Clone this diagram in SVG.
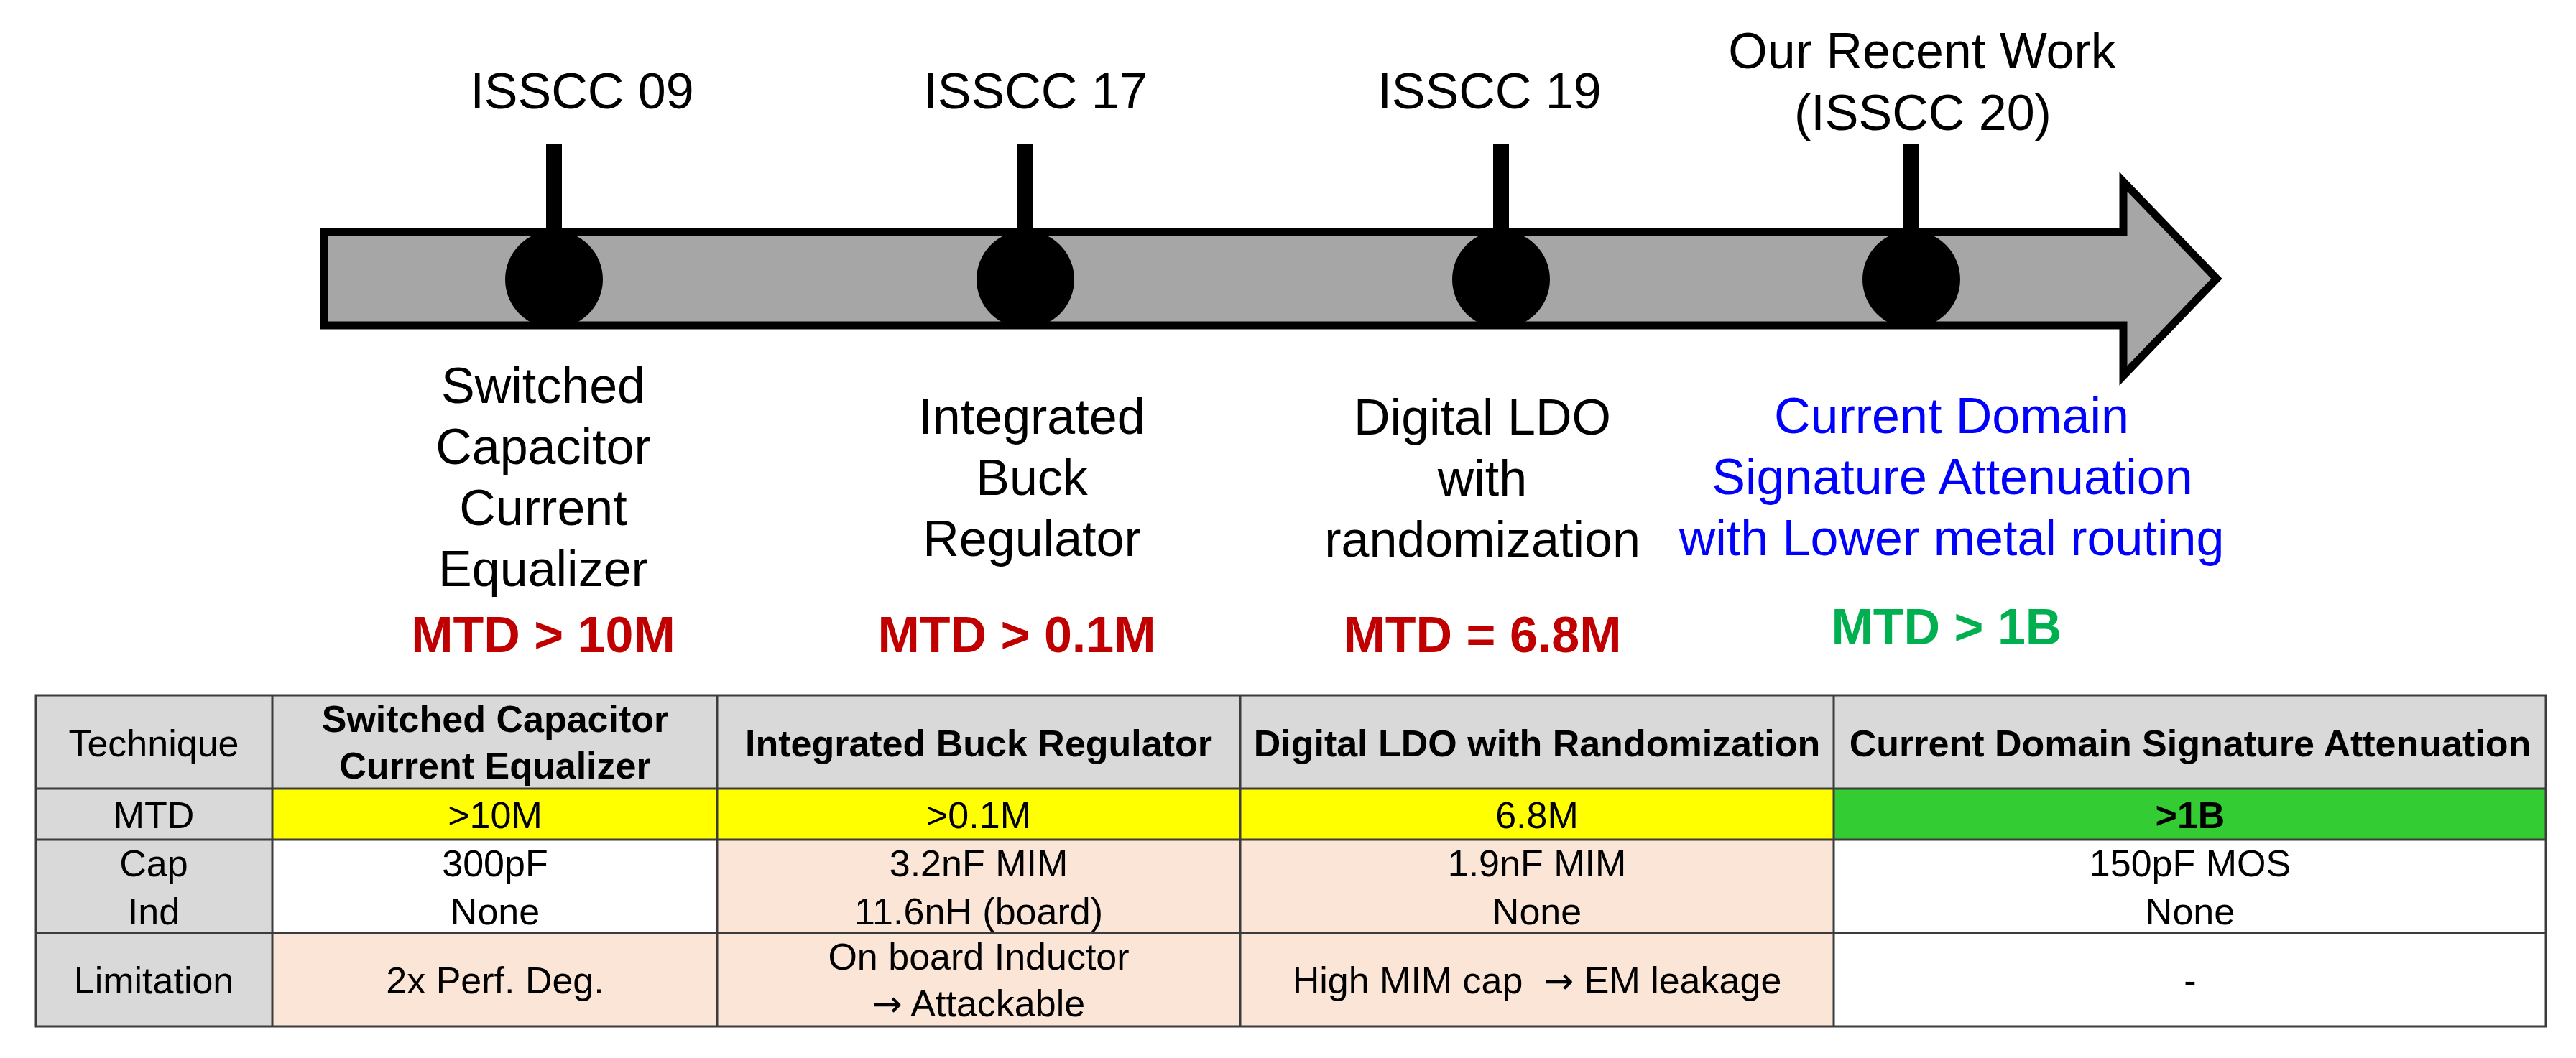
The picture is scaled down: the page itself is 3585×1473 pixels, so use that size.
<svg xmlns="http://www.w3.org/2000/svg" width="3585" height="1473" viewBox="0 0 3585 1473">
<style>
text{font-family:"Liberation Sans",Arial,sans-serif;text-anchor:middle;fill:#000}
.t70{font-size:70px}
.b70{font-size:70px;font-weight:bold}
.blue{fill:#0000FF}
.red{fill:#C00000}
.green{fill:#00B050}
.t52{font-size:52px}
.b52{font-size:52px;font-weight:bold}
.arr{font-family:"DejaVu Sans",sans-serif;font-size:50px}
.tick{fill:#000}
.dot{fill:#000}
.hdr{fill:#D9D9D9}
.yel{fill:#FFFF00}
.grn{fill:#33CC33}
.pch{fill:#FBE5D6}
.wht{fill:#FFFFFF}
.grid{stroke:#3C3C3C;stroke-width:3;fill:none}
</style>
<rect width="3585" height="1473" fill="#FFFFFF"/>

<g id="timeline-arrow">
<polygon points="451.5,323 2955,323 2955,253 3085,388 2955,523 2955,453 451.5,453" fill="#A6A6A6" stroke="#000" stroke-width="11" stroke-linejoin="miter"/>
</g>

<g id="connectors">
<rect class="tick" x="760" y="201" width="22" height="125"/>
<rect class="tick" x="1416" y="201" width="22" height="125"/>
<rect class="tick" x="2078" y="201" width="22" height="125"/>
<rect class="tick" x="2649" y="201" width="22" height="125"/>
</g>

<g id="m-isscc09">
<circle class="dot" cx="771" cy="389" r="68"/>
<text class="t70" x="810" y="151">ISSCC 09</text>
<text class="t70" x="756" y="561">Switched</text>
<text class="t70" x="756" y="646">Capacitor</text>
<text class="t70" x="756" y="731">Current</text>
<text class="t70" x="756" y="816">Equalizer</text>
<text class="b70 red" x="756" y="908">MTD &gt; 10M</text>
</g>

<g id="m-isscc17">
<circle class="dot" cx="1427" cy="389" r="68"/>
<text class="t70" x="1441" y="151">ISSCC 17</text>
<text class="t70" x="1436" y="604">Integrated</text>
<text class="t70" x="1436" y="689">Buck</text>
<text class="t70" x="1436" y="774">Regulator</text>
<text class="b70 red" x="1415" y="908">MTD &gt; 0.1M</text>
</g>

<g id="m-isscc19">
<circle class="dot" cx="2089" cy="389" r="68"/>
<text class="t70" x="2073" y="151">ISSCC 19</text>
<text class="t70" x="2063" y="605">Digital LDO</text>
<text class="t70" x="2063" y="690">with</text>
<text class="t70" x="2063" y="775">randomization</text>
<text class="b70 red" x="2063" y="908">MTD = 6.8M</text>
</g>

<g id="m-isscc20">
<circle class="dot" cx="2660" cy="389" r="68"/>
<text class="t70" x="2675" y="95">Our Recent Work</text>
<text class="t70" x="2676" y="181">(ISSCC 20)</text>
<text class="t70 blue" x="2716" y="603">Current Domain</text>
<text class="t70 blue" x="2717" y="688">Signature Attenuation</text>
<text class="t70 blue" x="2716" y="773">with Lower metal routing</text>
<text class="b70 green" x="2709" y="897">MTD &gt; 1B</text>
</g>

<g id="comparison-table">
<rect class="hdr" x="50" y="968" width="3493" height="130"/>
<rect class="hdr" x="50" y="1098" width="329" height="331"/>
<rect class="yel" x="379" y="1098" width="2173" height="71"/>
<rect class="grn" x="2552" y="1098" width="991" height="71"/>
<rect class="wht" x="379" y="1169" width="619" height="130"/>
<rect class="pch" x="998" y="1169" width="1554" height="130"/>
<rect class="wht" x="2552" y="1169" width="991" height="130"/>
<rect class="pch" x="379" y="1299" width="2173" height="130"/>
<rect class="wht" x="2552" y="1299" width="991" height="130"/>
<path class="grid" d="M50,968H3543V1429H50Z M50,1098H3543 M50,1169H3543 M50,1299H3543 M379,968V1429 M998,968V1429 M1726,968V1429 M2552,968V1429"/>

<text class="t52" x="214" y="1053">Technique</text>
<text class="b52" x="689" y="1019">Switched Capacitor</text>
<text class="b52" x="689" y="1084">Current Equalizer</text>
<text class="b52" x="1362" y="1053">Integrated Buck Regulator</text>
<text class="b52" x="2139" y="1053">Digital LDO with Randomization</text>
<text class="b52" x="3048" y="1053">Current Domain Signature Attenuation</text>

<text class="t52" x="214" y="1153">MTD</text>
<text class="t52" x="689" y="1153">&gt;10M</text>
<text class="t52" x="1362" y="1153">&gt;0.1M</text>
<text class="t52" x="2139" y="1153">6.8M</text>
<text class="b52" x="3048" y="1153">&gt;1B</text>

<text class="t52" x="214" y="1220">Cap</text>
<text class="t52" x="214" y="1287">Ind</text>
<text class="t52" x="689" y="1220">300pF</text>
<text class="t52" x="689" y="1287">None</text>
<text class="t52" x="1362" y="1220">3.2nF MIM</text>
<text class="t52" x="1362" y="1287">11.6nH (board)</text>
<text class="t52" x="2139" y="1220">1.9nF MIM</text>
<text class="t52" x="2139" y="1287">None</text>
<text class="t52" x="3048" y="1220">150pF MOS</text>
<text class="t52" x="3048" y="1287">None</text>

<text class="t52" x="214" y="1383">Limitation</text>
<text class="t52" x="689" y="1383">2x Perf. Deg.</text>
<text class="t52" x="1362" y="1350">On board Inductor</text>
<text class="t52" x="1362" y="1415"><tspan class="arr">→</tspan> Attackable</text>
<text class="t52" x="2139" y="1383" xml:space="preserve">High MIM cap  <tspan class="arr">→</tspan> EM leakage</text>
<text class="t52" x="3048" y="1383">-</text>
</g>
</svg>
